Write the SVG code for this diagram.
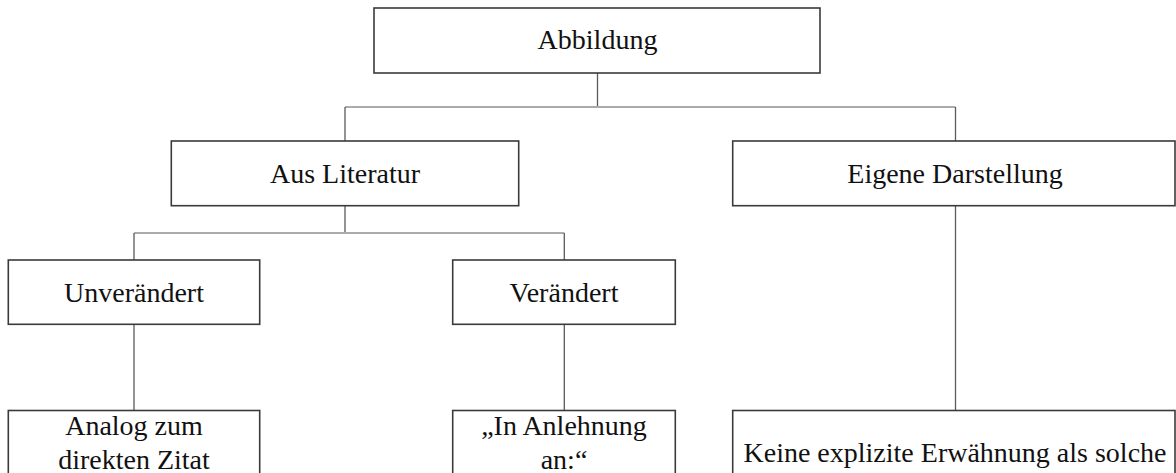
<svg xmlns="http://www.w3.org/2000/svg" width="1176" height="473" viewBox="0 0 1176 473">
<style>
.box{fill:#fff;stroke:#3a3a3a;stroke-width:1.6}
.t{font-family:"Liberation Serif","Times New Roman",serif;font-size:28px;fill:#111;text-anchor:middle}
.v{stroke:#5a5a5a;stroke-width:1.3;fill:none}
.h{stroke:#ababab;stroke-width:1.8;fill:none}
</style>
<rect width="1176" height="473" fill="#fff"/>
<g id="connectors">
<line class="v" x1="597.5" y1="73" x2="597.5" y2="107"/>
<line class="h" x1="345" y1="107" x2="955.5" y2="107"/>
<line class="v" x1="345" y1="107" x2="345" y2="141"/>
<line class="v" x1="955.5" y1="107" x2="955.5" y2="141"/>
<line class="v" x1="345" y1="205.7" x2="345" y2="233"/>
<line class="h" x1="134" y1="233" x2="564.3" y2="233"/>
<line class="v" x1="134" y1="233" x2="134" y2="260"/>
<line class="v" x1="564.3" y1="233" x2="564.3" y2="260"/>
<line class="v" x1="134" y1="324.3" x2="134" y2="410.5"/>
<line class="v" x1="564.3" y1="324.3" x2="564.3" y2="410.5"/>
<line class="v" x1="955.5" y1="205.7" x2="955.5" y2="410.5"/>
</g>
<g id="abbildung">
<rect class="box" x="374" y="8" width="446" height="65"/>
<text class="t" x="597.5" y="49">Abbildung</text>
</g>
<g id="aus-literatur">
<rect class="box" x="171.3" y="141" width="347.4" height="64.7"/>
<text class="t" x="345" y="183">Aus Literatur</text>
</g>
<g id="eigene-darstellung">
<rect class="box" x="732.7" y="141" width="442.3" height="64.7"/>
<text class="t" x="955" y="183">Eigene Darstellung</text>
</g>
<g id="unveraendert">
<rect class="box" x="8.3" y="260" width="251.4" height="64.3"/>
<text class="t" x="134" y="301.5">Unverändert</text>
</g>
<g id="veraendert">
<rect class="box" x="452.7" y="260" width="222.6" height="64.3"/>
<text class="t" x="564" y="301.5">Verändert</text>
</g>
<g id="analog">
<rect class="box" x="8.3" y="410.5" width="251.4" height="80"/>
<text class="t" x="134" y="434.5">Analog zum</text>
<text class="t" x="134" y="469">direkten Zitat</text>
</g>
<g id="anlehnung">
<rect class="box" x="452.7" y="410.5" width="222.6" height="80"/>
<text class="t" x="564" y="434.5">„In Anlehnung</text>
<text class="t" x="564" y="469">an:“</text>
</g>
<g id="keine">
<rect class="box" x="732.7" y="410.5" width="442.3" height="80"/>
<text class="t" x="955" y="461.5">Keine explizite Erwähnung als solche</text>
</g>
</svg>
